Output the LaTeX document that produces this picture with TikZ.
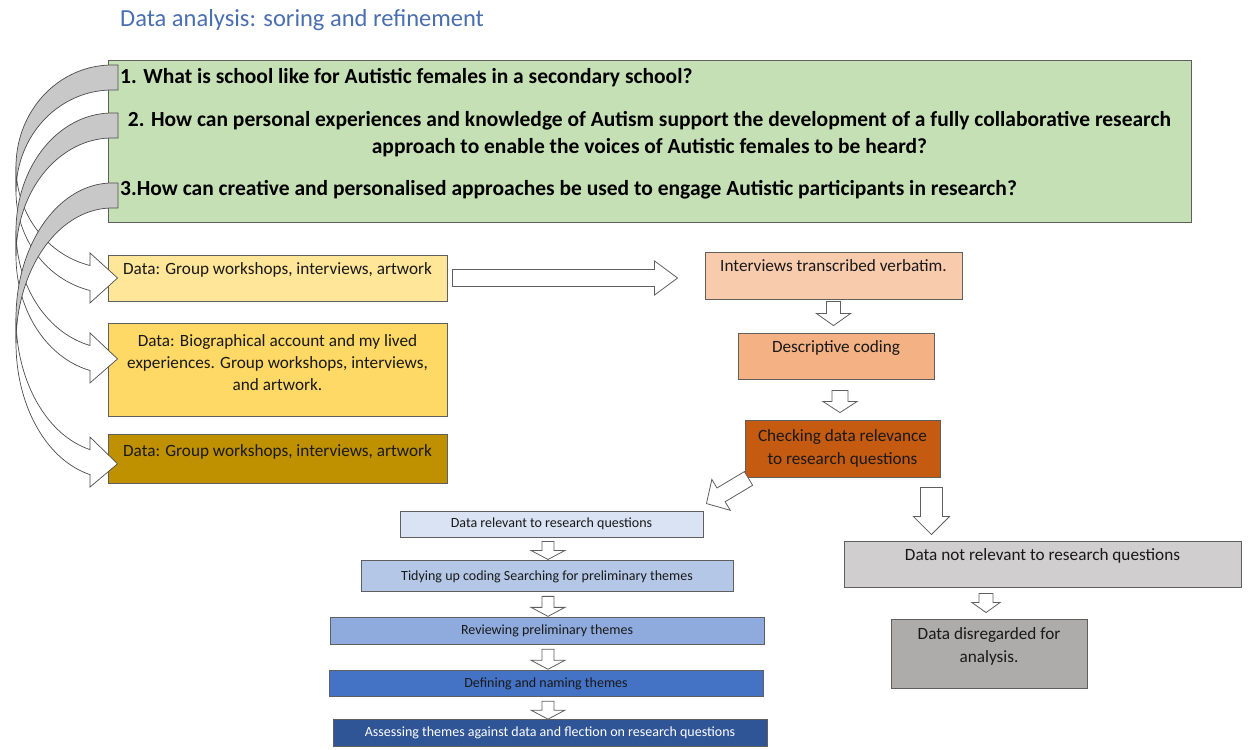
\documentclass[tikz,border=0pt]{standalone}
\usepackage{fontspec}
\setmainfont{Carlito}
\usepackage{tikz}
\usetikzlibrary{calc,positioning}

\definecolor{titleblue}{HTML}{4A6FB0}
\definecolor{qgreen}{HTML}{C5E0B4}
\definecolor{yellowA}{HTML}{FFE699}
\definecolor{yellowB}{HTML}{FFD966}
\definecolor{yellowC}{HTML}{BF9000}
\definecolor{peachA}{HTML}{F8CBAD}
\definecolor{peachB}{HTML}{F4B183}
\definecolor{rust}{HTML}{C55A11}
\definecolor{blueA}{HTML}{DAE3F3}
\definecolor{blueB}{HTML}{B4C7E7}
\definecolor{blueC}{HTML}{8FAADC}
\definecolor{blueD}{HTML}{4472C4}
\definecolor{blueE}{HTML}{2F5597}
\definecolor{greyA}{HTML}{D0CECE}
\definecolor{greyB}{HTML}{AEABAB}
\definecolor{bandgrey}{HTML}{C8C8C8}
\definecolor{edge}{HTML}{5F5F5F}

\newcommand{\hollowarrow}[5]{%
  \coordinate (ba-s) at (#1);
  \coordinate (ba-e) at (#2);
  \coordinate (ba-h) at ($(ba-e)!#5!(ba-s)$);
  \draw[hollow] ($(ba-s)!#3!90:(ba-e)$) -- ($(ba-h)!#3!90:(ba-e)$) -- ($(ba-h)!#4!90:(ba-e)$)
    -- (ba-e) -- ($(ba-h)!#4!-90:(ba-e)$) -- ($(ba-h)!#3!-90:(ba-e)$) -- ($(ba-s)!#3!-90:(ba-e)$) -- cycle;}

\newcommand{\bentarrow}[3]{%
  \pgfmathsetmacro\shafty{#1+0.973*#2}
  \filldraw[bent, fill=white] plot[domain=180:256.7, samples=40, variable=\ang] ({112+96*cos(\ang)},{#1-#2*sin(\ang)})
    -- (90,\shafty-12.5) -- (#3) -- (90,\shafty+37.5) -- (90,\shafty+25)
    -- plot[domain=256.7:180, samples=40, variable=\ang] ({112+96*cos(\ang)},{#1+25-#2*sin(\ang)}) -- cycle;
  \filldraw[bent, fill=bandgrey] (118,#1-#2) -- plot[domain=90:180, samples=40, variable=\ang] ({112+96*cos(\ang)},{#1-#2*sin(\ang)})
    -- plot[domain=180:90, samples=40, variable=\ang] ({112+96*cos(\ang)},{#1+25-#2*sin(\ang)}) -- (118,#1-#2+25) -- cycle;}

\begin{document}
\begin{tikzpicture}[x=1pt, y=-1pt]
    \tikzset{box/.style = {draw=edge, line width=0.9pt, inner sep=3pt, align=center, text=black!90}}
    \tikzset{databox/.style = {box, minimum width=339pt, font=\fontsize{17.2}{22}\selectfont}}
    \tikzset{flowbox/.style = {box, font=\fontsize{17.2}{23}\selectfont}}
    \tikzset{stepbox/.style = {box, minimum width=434pt, minimum height=27pt, font=\fontsize{14}{16}\selectfont}}
    \tikzset{question/.style = {inner sep=0pt, font=\bfseries\fontsize{21.5}{27}\selectfont}}
    \tikzset{lift/.style = {execute at end node={\rule[-#1]{0pt}{#1}}}}
    \tikzset{hollow/.style = {draw=edge, fill=white, line width=0.8pt, line join=miter}}
    \tikzset{bent/.style = {draw=black!70, line width=0.7pt}}
    \useasboundingbox (0,0) rectangle (1251,750);

    \node[anchor=west, inner sep=0pt, text=titleblue, font=\fontsize{24.5}{28}\selectfont] (title) at (120,20) {Data analysis: soring and refinement};

    \node[draw=edge, line width=0.9pt, fill=qgreen, minimum width=1083pt, minimum height=162pt] (qbox) at (649.5,141) {};
    \node[question, anchor=west] (q1) at (120,78) {1. What is school like for Autistic females in a secondary school?};
    \node[question, align=center] (q2) at (649.5,134) {2. How can personal experiences and knowledge of Autism support the development of a fully collaborative research\\approach to enable the voices of Autistic females to be heard?};
    \node[question, anchor=west] (q3) at (120,190) {3.How can creative and personalised approaches be used to engage Autistic participants in research?};

    \node[databox, fill=yellowA, minimum height=46pt, lift=18pt] (dataA) at (277.5,278) {Data: Group workshops, interviews, artwork};
    \node[databox, fill=yellowB, minimum height=93pt, lift=15pt, below=22pt of dataA] (dataB) {Data: Biographical account and my lived\\experiences. Group workshops, interviews,\\and artwork.};
    \node[databox, fill=yellowC, minimum height=49pt, lift=17pt, below=17pt of dataB] (dataC) {Data: Group workshops, interviews, artwork};

    \node[flowbox, fill=peachA, minimum width=257pt, minimum height=47pt, lift=19pt] (interv) at (833.5,275.5) {Interviews transcribed verbatim.};
    \node[flowbox, fill=peachB, minimum width=196pt, minimum height=46pt, lift=18pt] (coding) at (836,356) {Descriptive coding};
    \node[flowbox, fill=rust, minimum width=195pt, minimum height=57pt] (check) at (842.5,448.5) {Checking data relevance\\to research questions};

    \node[stepbox, fill=blueA, minimum width=303pt, minimum height=26pt] (relev) at (551.5,524) {Data relevant to research questions};
    \node[stepbox, fill=blueB, minimum width=372pt, minimum height=31pt, below=23pt of relev, xshift=-4.5pt] (tidy) {Tidying up coding Searching for preliminary themes};
    \node[stepbox, fill=blueC, below=25pt of tidy] (review) {Reviewing preliminary themes};
    \node[stepbox, fill=blueD, minimum height=26pt, below=25pt of review, xshift=-1pt] (define) {Defining and naming themes};
    \node[stepbox, fill=blueE, text=white, below=22pt of define, xshift=4pt] (assess) {Assessing themes against data and flection on research questions};

    \node[flowbox, fill=greyA, minimum width=397pt, minimum height=46pt, lift=18pt] (notrel) at (1042.5,564) {Data not relevant to research questions};
    \node[flowbox, fill=greyB, minimum width=196pt, minimum height=69pt, lift=16pt] (disreg) at (989,653.5) {Data disregarded for\\analysis.};

    \bentarrow{166.6}{101.6}{$(dataA.west)+(10,0)$}
    \bentarrow{230.8}{117.8}{$(dataB.west)+(10,-11.5)$}
    \bentarrow{318.1}{135.1}{$(dataC.west)+(10,4.5)$}

    \hollowarrow{$(dataA.east)+(5,0)$}{$(dataA.east -| interv.west)+(-27,0)$}{8.5pt}{17pt}{23pt}
    \hollowarrow{$(interv.south)+(0,2)$}{$(interv.south |- coding.north)+(0,-7)$}{7pt}{17pt}{12pt}
    \hollowarrow{$(coding.south)+(4,11)$}{$(coding.south |- check.north)+(4,-7)$}{8pt}{17pt}{11pt}
    \hollowarrow{$(check.south west)+(4,1)$}{$(relev.north east)+(3,-7)$}{8pt}{18pt}{17pt}
    \hollowarrow{$(check.south east)+(-9,10)$}{$(check.south east |- notrel.north)+(-9,-6)$}{11pt}{18pt}{18pt}
    \hollowarrow{$(relev.south)+(-3.5,4)$}{$(relev.south |- tidy.north)+(-3.5,-1)$}{6pt}{17pt}{9pt}
    \hollowarrow{$(tidy.south)+(1,4)$}{$(tidy.south |- review.north)+(1,-1)$}{6pt}{17pt}{9pt}
    \hollowarrow{$(review.south)+(1,4)$}{$(review.south |- define.north)+(1,-1)$}{6pt}{17pt}{9pt}
    \hollowarrow{$(define.south)+(2,4)$}{$(define.south |- assess.north)+(2,0)$}{6pt}{17pt}{9pt}
    \hollowarrow{$(disreg.north |- notrel.south)+(-3,6)$}{$(disreg.north)+(-3,-6)$}{7pt}{14pt}{10pt}
\end{tikzpicture}
\end{document}
